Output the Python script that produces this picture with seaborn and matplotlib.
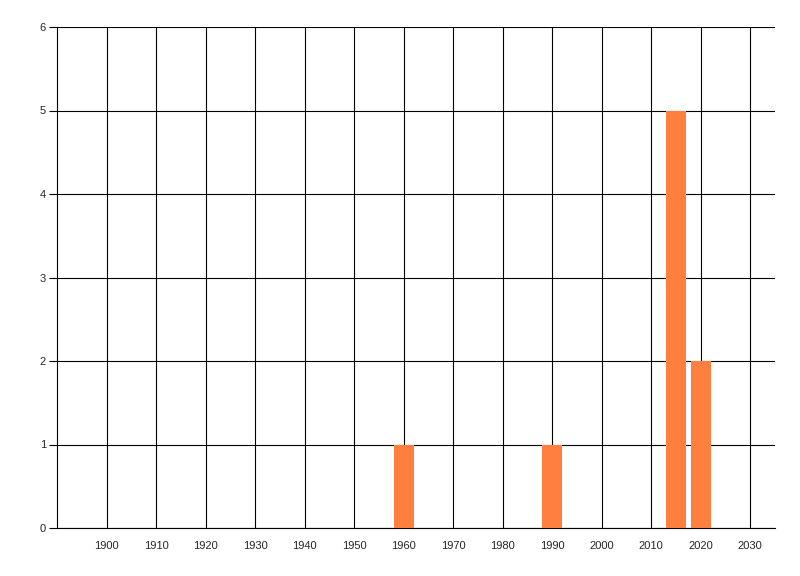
import matplotlib
matplotlib.use("Agg")
import matplotlib.pyplot as plt
import seaborn as sns
import pandas as pd

years = [1960, 1990, 2015, 2020]
counts = [1, 1, 5, 2]
xticks = list(range(1900, 2031, 10))
yticks = [0, 1, 2, 3, 4, 5, 6]

sns.set_style("white")
plt.rcParams['font.family'] = ['Liberation Sans', 'DejaVu Sans']

fig = plt.figure(figsize=(8, 5.76), dpi=100)
ax = fig.add_axes([57/800, 48/576, (775-57)/800, (528-27)/576])

df = pd.DataFrame({"year": years, "count": counts})
sns.barplot(data=df, x="year", y="count", native_scale=True, width=0.8,
            color="#FF7F3F", saturation=1, ax=ax, zorder=3, linewidth=0)

ax.set_xlim(1890, 2035)
ax.set_ylim(0, 6)
ax.set_xticks(xticks)
ax.set_yticks(yticks)
ax.set_xticklabels([str(t) for t in xticks])
ax.set_yticklabels([str(t) for t in yticks])
ax.grid(True, color="black", linewidth=0.8, zorder=0)
ax.set_axisbelow(True)
for s in ["top", "right"]:
    ax.spines[s].set_visible(False)
for s in ["left", "bottom"]:
    ax.spines[s].set_color("black")
    ax.spines[s].set_linewidth(0.8)
ax.tick_params(axis="y", left=True, length=6, width=0.8, color="black", labelsize=8, pad=2)
ax.tick_params(axis="x", bottom=False, labelsize=8, pad=6)
ax.set_xlabel("")
ax.set_ylabel("")

fig.savefig("out.png", dpi=100)
